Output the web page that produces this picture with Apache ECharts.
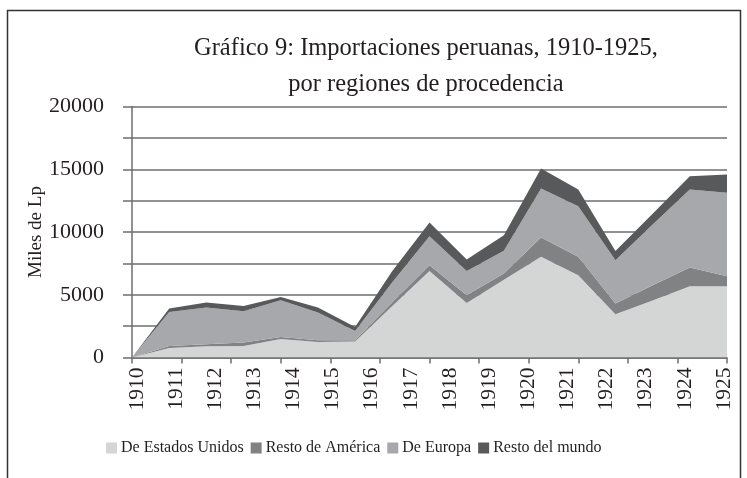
<!DOCTYPE html>
<html>
<head>
<meta charset="utf-8">
<script src="https://cdn.jsdelivr.net/npm/echarts@6/dist/echarts.min.js"></script>
<style>html,body{margin:0;padding:0;background:#fff;}#c{width:747px;height:478px;}</style>
</head>
<body>
<div id="c"></div>
<script>
// 17 sample points spread evenly along the horizontal axis
const samples = ['p01','p02','p03','p04','p05','p06','p07','p08','p09','p10','p11','p12','p13','p14','p15','p16','p17'];
// year tick labels (16, evenly spaced)
const yearLabels = ['1910','1911','1912','1913','1914','1915','1916','1917','1918','1919','1920','1921','1922','1923','1924','1925'];
// 13 tick marks on the horizontal axis
const tickSlots = ['','','','','','','','','','','','',''];
const yTickLabels = ['0','5000','10000','15000','20000'];

const seriesNames = ['De Estados Unidos','Resto de América','De Europa','Resto del mundo'];
const estadosUnidos = [0, 750, 900, 925, 1480, 1240, 1280, 4100, 6900, 4350, 6200, 8020, 6560, 3450, 4540, 5680, 5680];
const restoAmerica  = [0, 170, 160, 270, 160, 140, 100, 300, 450, 610, 500, 1550, 1460, 850, 1220, 1490, 800];
const europa        = [0, 2710, 2925, 2495, 2925, 2210, 740, 1600, 2310, 1940, 1800, 3900, 4040, 3450, 4840, 6220, 6640];
const restoMundo    = [0, 270, 400, 420, 260, 400, 320, 900, 1090, 910, 1250, 1590, 1330, 740, 845, 1060, 1470];
const colors = ['#d4d5d5','#808284','#a7a8ab','#58595b'];

const FONT = '"Liberation Serif", "DejaVu Serif", serif';
const chart = echarts.init(document.getElementById('c'), null, {renderer:'canvas'});
const values = [estadosUnidos, restoAmerica, europa, restoMundo];

chart.setOption({
  animation: false,
  backgroundColor: '#ffffff',
  title: {
    text: 'Gráfico 9: Importaciones peruanas, 1910-1925,\npor regiones de procedencia',
    left: 421, top: 26, textAlign: 'center',
    textStyle: {fontFamily: FONT, fontSize: 24.5, fontWeight: 'normal', color: '#231f20', lineHeight: 36}
  },
  graphic: [{
    type: 'rect', shape: {x: 7.5, y: 10.5, width: 733, height: 500},
    style: {fill: 'none', stroke: '#333', lineWidth: 1.5}, silent: true
  }],
  legend: {
    data: seriesNames, left: 101, top: 435, itemGap: 7, itemWidth: 11, itemHeight: 11, icon: 'rect',
    textStyle: {fontFamily: FONT, fontSize: 16, color: '#231f20', padding: [0,0,0,-1]}
  },
  grid: [
    {left: 132, right: 20, top: 106.5, bottom: 120.5},
    {left: 137, right: 23, top: 106.5, bottom: 120.5}
  ],
  xAxis: [
    {type: 'category', gridIndex: 0, data: samples, boundaryGap: false, show: false, position: 'bottom'},
    {type: 'category', gridIndex: 0, data: tickSlots, boundaryGap: false, position: 'bottom',
     axisLine: {show: true, lineStyle: {color: '#6d6e70', width: 1.5}},
     axisTick: {show: true, length: 6, alignWithLabel: true, lineStyle: {color: '#6d6e70', width: 1.5}},
     axisLabel: {show: false}, splitLine: {show: false}},
    {type: 'category', gridIndex: 1, data: yearLabels, boundaryGap: false, position: 'bottom',
     axisLine: {show: false}, axisTick: {show: false}, splitLine: {show: false},
     axisLabel: {show: true, interval: 0, rotate: 90, margin: 10,
       fontFamily: FONT, fontSize: 21.5, color: '#231f20'}}
  ],
  yAxis: [
    {type: 'value', gridIndex: 0, min: 0, max: 20000, interval: 2500,
     name: 'Miles de Lp', nameLocation: 'middle', nameGap: 86, nameMoveOverlap: false,
     nameTextStyle: {fontFamily: FONT, fontSize: 19, color: '#231f20'},
     axisLine: {show: true, lineStyle: {color: '#6d6e70', width: 1.5}},
     axisTick: {show: true, length: 9, lineStyle: {color: '#6d6e70', width: 1.5}},
     splitLine: {show: true, lineStyle: {color: '#6d6e70', width: 1.5}},
     axisLabel: {margin: 28, fontFamily: FONT, fontSize: 22, color: '#231f20',
       formatter: v => (v % 5000 === 0 ? yTickLabels[v / 5000] : '')}},
    {type: 'value', gridIndex: 1, min: 0, max: 20000, show: false}
  ],
  series: seriesNames.map((n, i) => ({
    name: n, type: 'line', xAxisIndex: 0, yAxisIndex: 0, stack: 'total',
    data: values[i], symbol: 'none', showSymbol: false,
    lineStyle: {width: 0, color: colors[i]},
    itemStyle: {color: colors[i]},
    areaStyle: {color: colors[i], opacity: 1}
  }))
});
</script>
</body>
</html>
